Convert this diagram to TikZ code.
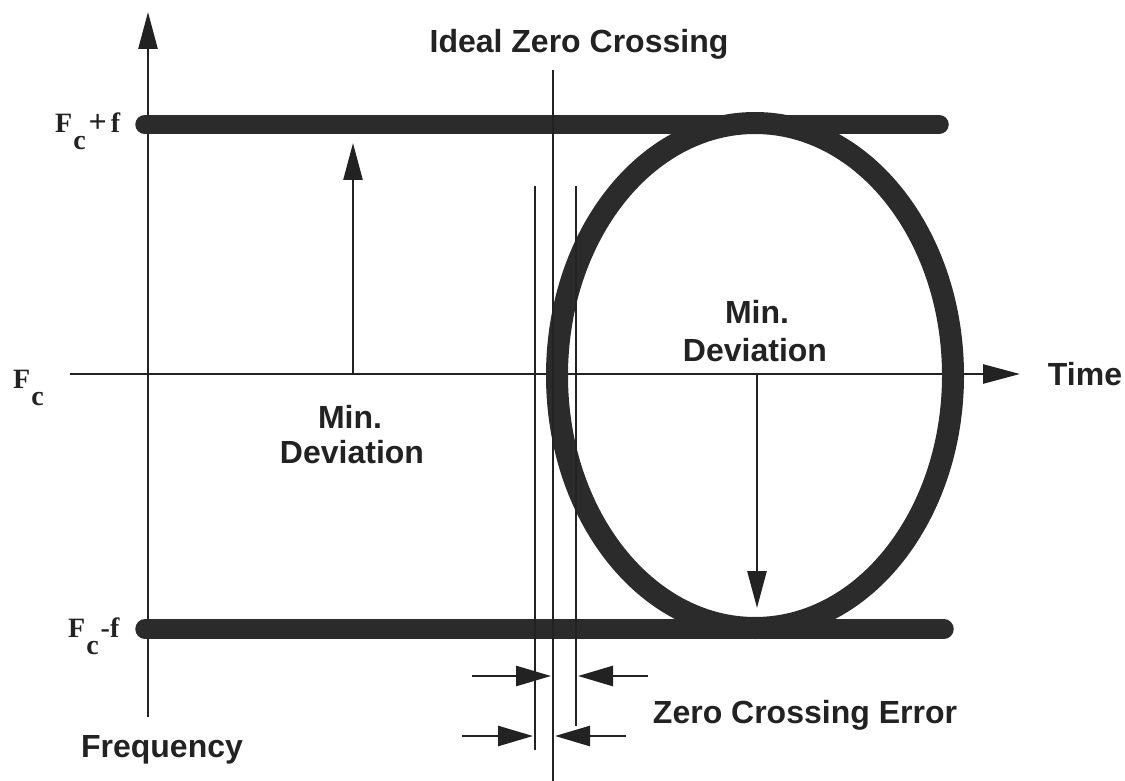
\documentclass[tikz,border=0pt]{standalone}
\usepackage{fontspec}
\setmainfont{Liberation Serif}
\setsansfont{Liberation Sans}
\usetikzlibrary{arrows.meta,shapes.geometric}
\definecolor{ink}{HTML}{222222}
\definecolor{band}{HTML}{2B2B2B}
\begin{document}
\begin{tikzpicture}[x=1pt,y=-1pt,
  thinln/.style={line width=2.6pt, draw=ink},
  tip/.style={-{Triangle[length=37pt,width=19pt]}},
  ztip/.style={-{Triangle[length=35pt,width=20pt]}},
  bandln/.style={line width=19.5pt, draw=band, line cap=round},
  lbl/.style={font=\sffamily\bfseries\fontsize{32}{38}\selectfont, text=ink, inner sep=0pt, anchor=base},
  flbl/.style={font=\rmfamily\bfseries\fontsize{28}{30}\selectfont, text=ink, inner sep=0pt, anchor=base west}]
\useasboundingbox (0,0) rectangle (1125,781);
\fill[white] (0,0) rectangle (1125,781);

% axes
\coordinate (yb) at (148,717);
\coordinate (yt) at (148,12);
\coordinate (xl) at (70,374);
\coordinate (xr) at (1020,374);
\draw[thinln, tip] (yb) -- (yt);
\draw[thinln, tip] (xl) -- (xr);

% bands
\coordinate (tl) at (145,124.5);
\coordinate (tr) at (939,124.5);
\coordinate (bl) at (145,629);
\coordinate (br) at (944,629);
\draw[bandln] (tl) -- (tr);
\draw[bandln] (bl) -- (br);

% eye ellipse
\node[ellipse, draw=band, line width=22pt, minimum width=396pt, minimum height=505pt, inner sep=0pt] (eye) at (755,375.5) {};

% zero crossing lines
\coordinate (it) at (553,70);
\coordinate (ib) at (553,781);
\coordinate (lt) at (535,186);
\coordinate (lb) at (535,750);
\coordinate (rt) at (576,186);
\coordinate (rb) at (576,726);
\draw[thinln] (it) -- (ib);
\draw[thinln] (lt) -- (lb);
\draw[thinln] (rt) -- (rb);

% zero crossing error arrows
\coordinate (a1s) at (472,676);
\coordinate (a1e) at (551,676);
\coordinate (a2s) at (648,676);
\coordinate (a2e) at (578,676);
\coordinate (a3s) at (462,736);
\coordinate (a3e) at (533,736);
\coordinate (a4s) at (626,736);
\coordinate (a4e) at (555,736);
\draw[thinln, ztip] (a1s) -- (a1e);
\draw[thinln, ztip] (a2s) -- (a2e);
\draw[thinln, ztip] (a3s) -- (a3e);
\draw[thinln, ztip] (a4s) -- (a4e);

% min deviation arrows
\coordinate (m1s) at (353,374);
\coordinate (m1e) at (353,143);
\coordinate (m2s) at (757,374);
\coordinate (m2e) at (757,608);
\draw[thinln, tip] (m1s) -- (m1e);
\draw[thinln, tip] (m2s) -- (m2e);

% sans labels
\node[lbl] (ideal) at (579,53) {Ideal Zero Crossing};
\node[lbl] (md1a) at (350,428) {Min.};
\node[lbl] (md1b) at (352,463) {Deviation};
\node[lbl] (md2a) at (757,323) {Min.};
\node[lbl] (md2b) at (755,361) {Deviation};
\node[lbl] (time) at (1085,385) {Time};
\node[lbl] (zce) at (805,723) {Zero Crossing Error};
\node[lbl] (freq) at (162,757) {Frequency};

% serif labels
\node[flbl] (fcp) at (55,133) {F\kern1pt\raisebox{-17pt}{c}\kern3pt{\fontsize{32}{32}\selectfont+}\kern4pt f};
\node[flbl] (fc) at (13,388) {F\kern1pt\raisebox{-17pt}{c}};
\node[flbl] (fcm) at (68,637) {F\kern1pt\raisebox{-17pt}{c}\kern2pt-f};
\end{tikzpicture}
\end{document}
